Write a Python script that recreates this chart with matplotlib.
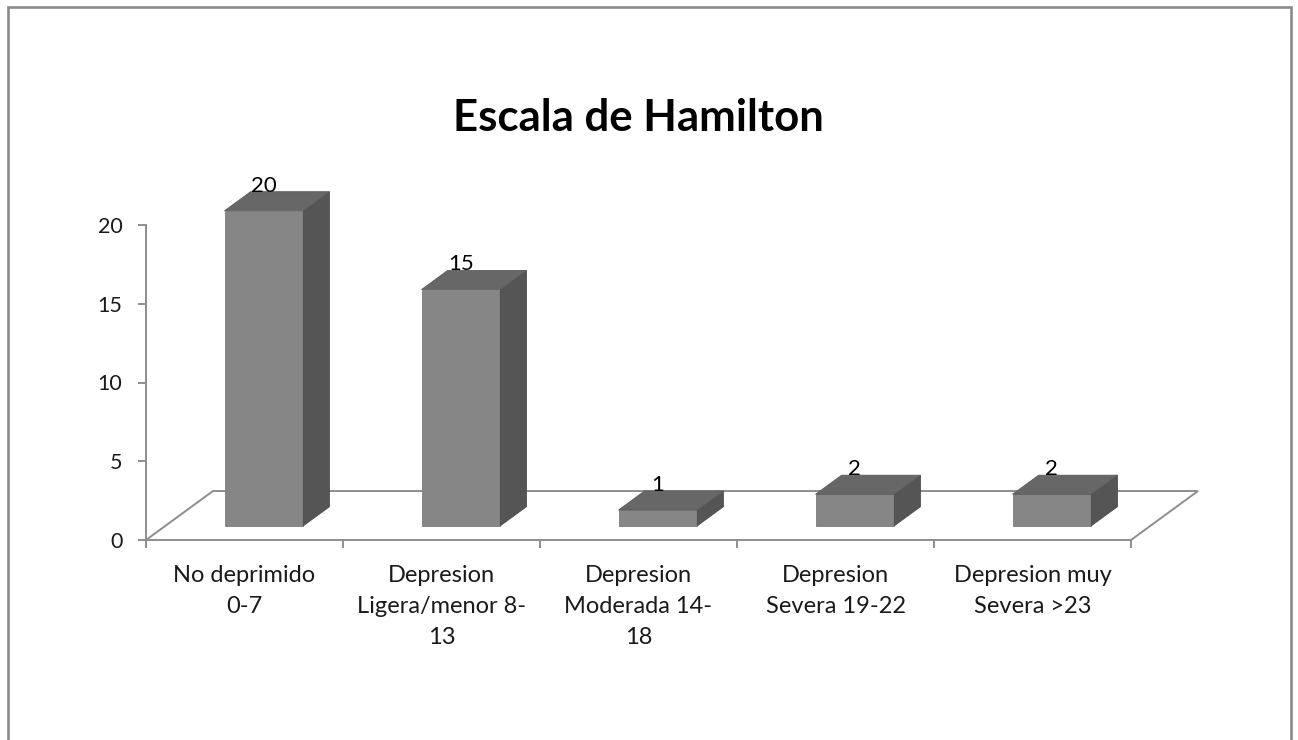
import matplotlib
matplotlib.use("Agg")
import matplotlib.pyplot as plt
from matplotlib.patches import Polygon, Rectangle
from matplotlib.lines import Line2D

plt.rcParams['font.family'] = ['Lato', 'DejaVu Sans']

# Data
categories = [
    "No deprimido\n0-7",
    "Depresion\nLigera/menor 8-\n13",
    "Depresion\nModerada 14-\n18",
    "Depresion\nSevera 19-22",
    "Depresion muy\nSevera >23",
]
values = [20, 15, 1, 2, 2]
yticks = [0, 5, 10, 15, 20]
title = "Escala de Hamilton"

W, H, DPI = 1298, 740, 100
fig = plt.figure(figsize=(W / DPI, H / DPI), dpi=DPI)

# Axes placed in pixel terms: x from 146 to 1131, y=0 at 540 px, 15.75 px per unit
px_per_unit = 15.75
ymax = 25
left_px, right_px, zero_px = 146, 1131, 540
ax = fig.add_axes([left_px / W, (H - zero_px) / H,
                   (right_px - left_px) / W, ymax * px_per_unit / H])
ax.set_xlim(0, len(values))
ax.set_ylim(0, ymax)

# 3D-like projection parameters (in data units)
floor_dx, floor_dy = 0.340, 3.11       # full floor depth
front_frac, depth_frac = 0.29, 0.39    # where bars sit in depth
bar_w = 0.40
ox, oy = floor_dx * front_frac, floor_dy * front_frac
bdx, bdy = floor_dx * depth_frac, floor_dy * depth_frac

axis_col = "#8e8e8e"
front_col, side_col, top_col = "#868686", "#555555", "#676767"

# Floor outline (back and side edges)
floor_x = [0, floor_dx, len(values) + floor_dx, len(values)]
floor_y = [0, floor_dy, floor_dy, 0]
ax.add_line(Line2D(floor_x, floor_y, color=axis_col, lw=1.4,
                   solid_joinstyle='miter', zorder=1, clip_on=False))

# Front faces of the bars
centers = [i + 0.5 for i in range(len(values))]
xs = [c + ox for c in centers]
ax.bar(xs, values, width=bar_w, bottom=oy, color=front_col,
       edgecolor="#7c7c7c", linewidth=0.6, zorder=3)

# Side and top faces, plus value labels
for x, v in zip(xs, values):
    xl, xr = x - bar_w / 2, x + bar_w / 2
    yb, yt = oy, oy + v
    side = Polygon([(xr, yb), (xr + bdx, yb + bdy), (xr + bdx, yt + bdy), (xr, yt)],
                   closed=True, facecolor=side_col, edgecolor="#4c4c4c",
                   linewidth=0.6, zorder=3)
    top = Polygon([(xl, yt), (xl + bdx, yt + bdy), (xr + bdx, yt + bdy), (xr, yt)],
                  closed=True, facecolor=top_col, edgecolor="#5c5c5c",
                  linewidth=0.6, zorder=3)
    ax.add_patch(side)
    ax.add_patch(top)
    ax.text(x, yt + bdy, f"{v}", ha="center", va="baseline",
            fontsize=16, color="black", zorder=4)

# Spines and ticks
for s in ("top", "right"):
    ax.spines[s].set_visible(False)
for s in ("left", "bottom"):
    ax.spines[s].set_color(axis_col)
    ax.spines[s].set_linewidth(1.4)
ax.spines["left"].set_bounds(0, 20)

ax.set_yticks(yticks)
ax.set_yticklabels([str(t) for t in yticks])
ax.tick_params(axis="y", direction="out", length=6, width=1.4, color=axis_col,
               pad=11, labelsize=15.5, labelcolor="#1a1a1a")

ax.set_xticks(range(len(values) + 1))
ax.set_xticklabels([])
ax.tick_params(axis="x", which="major", direction="out", length=5.5, width=1.4,
               color=axis_col)
ax.set_xticks(centers, minor=True)
ax.set_xticklabels(categories, minor=True, linespacing=1.6)
ax.tick_params(axis="x", which="minor", length=0, pad=18, labelsize=17,
               labelcolor="#1a1a1a")

# Title
fig.text(638 / W, 1 - 118 / H, title, ha="center", va="center",
         fontsize=31.5, fontweight="bold", color="black")

# Outer chart frame
fig.add_artist(Rectangle((7.5 / W, -0.05), (1291 - 7.5) / W, 1.05 - 6.5 / H,
                         transform=fig.transFigure, fill=False,
                         edgecolor="#8a8a8a", linewidth=1.9, clip_on=False))

fig.savefig("out.png", dpi=DPI, facecolor="white")
